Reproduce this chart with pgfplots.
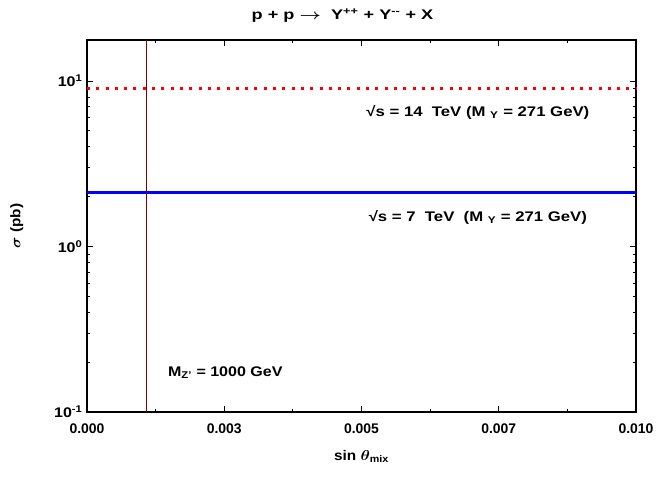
\documentclass[border=0pt]{standalone}
\usepackage{amsmath}
\usepackage{graphicx}
\usepackage{fontspec}
\setmainfont{Liberation Sans}
\usepackage{pgfplots}
\pgfplotsset{compat=1.18}
\definecolor{vline}{RGB}{128,0,0}
% wide bold lettering for the in-plot annotations
\newcommand\annot[2][1.2]{\scalebox{#1}[1]{\fontsize{14}{16}\selectfont\bfseries #2}}
\newcommand\decade[1]{\scalebox{1.15}[1]{10\textsuperscript{#1}}}
\begin{document}
\begin{tikzpicture}
\useasboundingbox (-87bp,-68bp) rectangle (569bp,412bp);
\begin{axis}[
  scale only axis, width=549bp, height=372bp,
  at={(0,0)}, anchor=south west,
  xmin=0, xmax=0.01,
  ymode=log, ymin=0.1, ymax=17.7,
  scaled x ticks=false,
  axis line style={line width=2.2bp},
  xtick={0,0.0025,0.005,0.0075,0.01},
  xticklabels={0.000,0.003,0.005,0.007,0.010},
  minor xtick={0.00125,0.00375,0.00625,0.00875},
  ytick={0.1,1,10},
  yticklabels={\decade{-1},\decade{0},\decade{1}},
  minor ytick={0.2,0.3,0.4,0.5,0.6,0.7,0.8,0.9,2,3,4,5,6,7,8,9},
  tick align=inside, tick pos=both,
  major tick length=6bp, minor tick length=3.5bp,
  every tick/.style={black, line width=1bp},
  every tick label/.append style={font=\fontsize{14}{16}\selectfont\bfseries},
  xticklabel style={yshift=-8bp},
  yticklabel style={xshift=-1bp},
  xlabel={\scalebox{1.1}[1]{\fontsize{14}{16}\selectfont\bfseries sin $\boldsymbol\theta$\textsubscript{mix}}},
  xlabel style={yshift=-10bp},
  ylabel={\scalebox{1.1}[1]{\fontsize{14}{16}\selectfont\bfseries $\boldsymbol\sigma$ (pb)}},
  ylabel style={yshift=24bp},
  title={\annot[1.3]{p + p $\boldsymbol\rightarrow$\ \ Y\textsuperscript{++} + Y\textsuperscript{{-}{-}} + X}},
  title style={yshift=8bp, xshift=-19bp},
  clip=false,
]
% sqrt(s) = 14 TeV
\addplot[red, line width=3bp, dash pattern=on 3bp off 6.3bp] coordinates {(0,9.0) (0.01,9.0)};
% sqrt(s) = 7 TeV
\addplot[blue, line width=2.8bp] coordinates {(0,2.13) (0.01,2.13)};
% Z' mass marker
\addplot[vline, line width=1.1bp] coordinates {(0.00109,0.1) (0.00109,17.7)};
\node at (axis cs:0.00712,6.49) {\annot{√s = 14 \ TeV (M \textsubscript{Y} = 271 GeV)}};
\node at (axis cs:0.00712,1.50) {\annot{√s = 7 \ TeV \ (M \textsubscript{Y} = 271 GeV)}};
\node at (axis cs:0.00252,0.172) {\annot[1.15]{M\textsubscript{Z'} = 1000 GeV}};
\end{axis}
\end{tikzpicture}
\end{document}
